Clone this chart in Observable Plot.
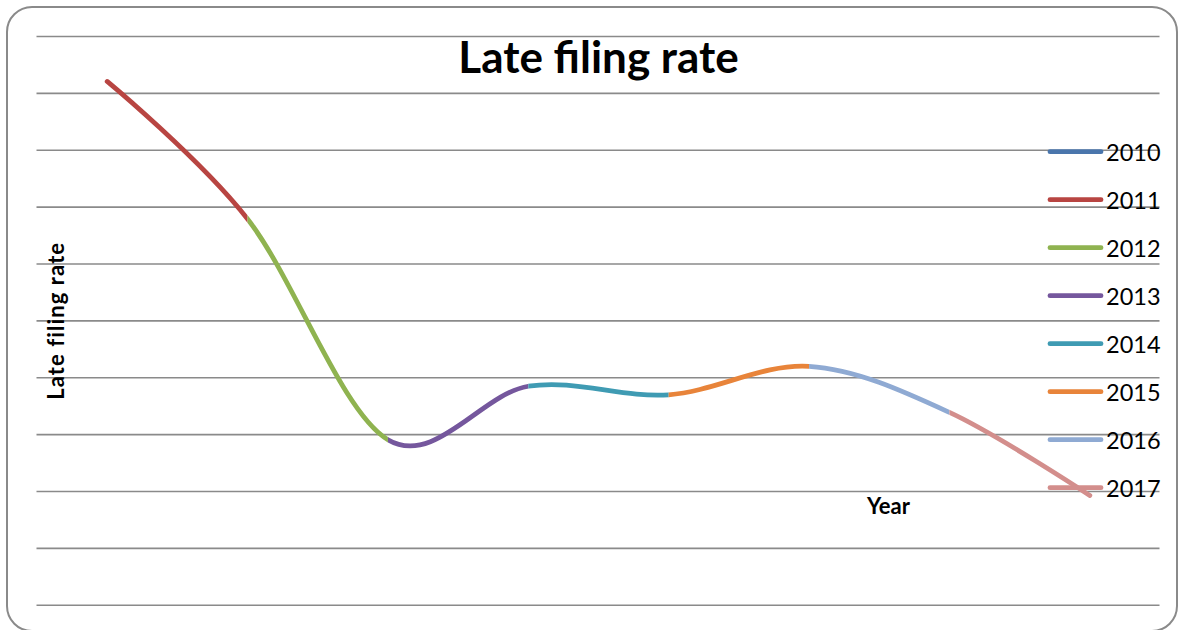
<!DOCTYPE html>
<html>
<head>
<meta charset="utf-8">
<script src="https://cdn.jsdelivr.net/npm/d3@7"></script>
<script src="https://cdn.jsdelivr.net/npm/@observablehq/plot@0.6"></script>
<style>
  html, body { margin: 0; padding: 0; background: #fff; }
  #chart { position: relative; width: 1183px; height: 630px; overflow: hidden; }
  #frame {
    position: absolute; left: 6px; top: 6px; width: 1172px; height: 626px;
    border: 2.5px solid #8a8a8a; border-radius: 26px; box-sizing: border-box;
  }
  #chart svg { position: absolute; left: 0; top: 0; }
</style>
</head>
<body>
<div id="chart"><div id="frame"></div></div>
<script>
// Late filing rate by year
const years = ["2010", "2011", "2012", "2013", "2014", "2015", "2016", "2017"];
const rates = [9.21, 6.79, 2.91, 3.85, 3.70, 4.20, 3.39, 1.93];
const yearColors = ["#4a76ac", "#b84542", "#8fb350", "#75579d", "#3f9bb3", "#e8843a", "#8faad3", "#d38e8c"];
const gridTicks = [0, 1, 2, 3, 4, 5, 6, 7, 8, 9, 10];

const data = years.map((year, i) => ({year, rate: rates[i]}));

const W = 1183, H = 630;
const font = "Lato, 'Open Sans', sans-serif";

// one smooth line per year, each later clipped to the span ending at that year
const segmentMarks = years.slice(1).map((year, k) =>
  Plot.line(data, {
    x: "year", y: "rate",
    stroke: yearColors[k + 1], strokeWidth: 4.8,
    strokeLinecap: "round", strokeLinejoin: "round",
    curve: "cardinal"
  })
);

const plot = Plot.plot({
  width: W, height: H,
  marginLeft: 36.5, marginRight: 23.5, marginTop: 36, marginBottom: 25.3,
  style: {fontFamily: font, background: "transparent", overflow: "visible"},
  x: {type: "point", domain: years, padding: 0.5, round: false, axis: null},
  y: {domain: [0, 10], axis: null},
  marks: [
    Plot.ruleY(gridTicks, {stroke: "#8a8a8a", strokeWidth: 1.6, strokeOpacity: 1}),
    ...segmentMarks,
    Plot.text(["Late filing rate"], {
      text: d => d, frameAnchor: "top", dy: 36.5, lineAnchor: "bottom", textAnchor: "middle",
      fontSize: 44, fontWeight: "bold", fill: "#000", fontFamily: font
    }),
    Plot.text(["Late filing rate"], {
      text: d => d, frameAnchor: "left", dx: 26.8, lineAnchor: "bottom", textAnchor: "middle", rotate: -90,
      fontSize: 22, fontWeight: "bold", fill: "#000", fontFamily: font
    }),
    Plot.text(["Year"], {
      text: d => d, frameAnchor: "top-left", dx: 851.5, dy: 477, lineAnchor: "bottom",
      textAnchor: "middle", fontSize: 22, fontWeight: "bold", fill: "#000", fontFamily: font
    })
  ]
});

document.getElementById("chart").appendChild(plot);

const svg = d3.select(plot);

// the vertical axis title is spaced out a little
svg.selectAll('g[aria-label="text"]').filter((d, i) => i === 1)
  .selectAll("text").style("letter-spacing", "1.1px");

// clip each coloured copy of the curve to its own year span
const xs = plot.scale("x");
const defs = svg.insert("defs", ":first-child");
const lineGroups = svg.selectAll('g[aria-label="line"]').nodes();
years.slice(1).forEach((year, k) => {
  const i = k + 1;
  const left = i === 1 ? -10 : xs.apply(years[i - 1]);
  const right = i === years.length - 1 ? W + 10 : xs.apply(year);
  const id = "clip-seg-" + year;
  defs.append("clipPath").attr("id", id).attr("clipPathUnits", "userSpaceOnUse")
    .append("rect").attr("x", left).attr("y", -10).attr("width", right - left).attr("height", H + 20);
  if (lineGroups[k]) d3.select(lineGroups[k]).attr("clip-path", `url(#${id})`);
});

// legend: one swatch per year down the right side
const legend = svg.append("g").attr("aria-label", "legend").attr("text-anchor", "start");
years.forEach((year, i) => {
  const cy = 151.7 + i * 48;
  const row = legend.append("g").attr("transform", `translate(0,${cy})`);
  row.append("line")
    .attr("x1", 1050).attr("x2", 1101).attr("y1", 0).attr("y2", 0)
    .attr("stroke", yearColors[i]).attr("stroke-width", 4.8).attr("stroke-linecap", "round");
  row.append("text")
    .attr("x", 1106).attr("y", 9.6)
    .attr("font-family", font).attr("font-size", 23.5).attr("fill", "#000")
    .text(year);
});
</script>
</body>
</html>
